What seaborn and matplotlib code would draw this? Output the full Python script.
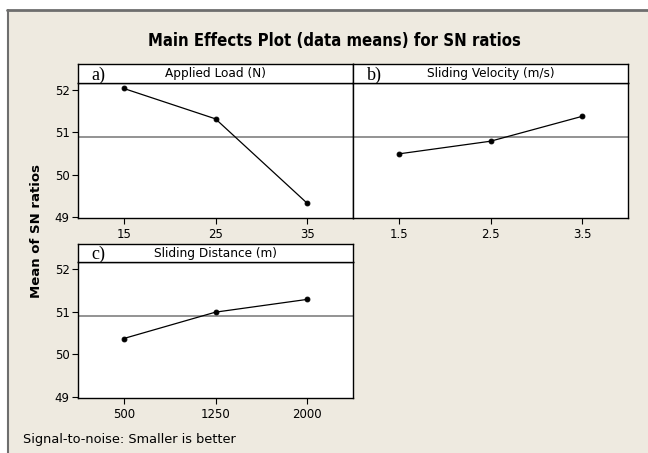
import matplotlib
matplotlib.use('Agg')
import matplotlib.pyplot as plt
import pandas as pd
import numpy as np
import seaborn as sns
from matplotlib.patches import Rectangle
from matplotlib.lines import Line2D

# Data
load_levels = ['15', '25', '35']
load_sn = [52.04, 51.32, 49.32]
velocity_levels = ['1.5', '2.5', '3.5']
velocity_sn = [50.49, 50.79, 51.38]
distance_levels = ['500', '1250', '2000']
distance_sn = [50.37, 50.99, 51.29]
grand_mean = 50.89
y_ticks = [49, 50, 51, 52]

panels = [
    ('a)', 'Applied Load (N)', load_levels, load_sn),
    ('b)', 'Sliding Velocity (m/s)', velocity_levels, velocity_sn),
    ('c)', 'Sliding Distance (m)', distance_levels, distance_sn),
]

sns.set_style('white')
plt.rcParams['font.family'] = ['DejaVu Sans']
plt.rcParams['text.color'] = 'black'
plt.rcParams['xtick.color'] = 'black'
plt.rcParams['ytick.color'] = 'black'
plt.rcParams['axes.labelcolor'] = 'black'

W, H = 648, 453
fig = plt.figure(figsize=(W / 100, H / 100), dpi=100)
fig.patch.set_facecolor('white')

def rect(x0, y0, x1, y1):
    # pixel box (top-left origin) -> figure fraction
    return [x0 / W, 1 - y1 / H, (x1 - x0) / W, (y1 - y0) / H]

# beige panel with dark border on top/left
bg = Rectangle((8 / W, 0), 1, 1 - 10 / H, transform=fig.transFigure,
               facecolor='#EEEAE0', edgecolor='none', zorder=-10)
fig.patches.append(bg)
fig.lines.append(Line2D([7 / W, 1], [1 - 10 / H, 1 - 10 / H], transform=fig.transFigure,
                        color='#6E6E6E', lw=2))
fig.lines.append(Line2D([7.5 / W, 7.5 / W], [0, 1 - 10 / H], transform=fig.transFigure,
                        color='#6E6E6E', lw=1.5))

# (left, strip top, plot top, right, plot bottom) in pixels
boxes = [
    (78, 64, 83, 353, 218),
    (353, 64, 83, 628, 218),
    (78, 244, 262, 353, 398),
]

for i, ((tag, name, levels, vals), (x0, s0, p0, x1, y1)) in enumerate(zip(panels, boxes)):
    ax = fig.add_axes(rect(x0, p0, x1, y1))
    ax.set_facecolor('white')
    df = pd.DataFrame({'level': levels, 'sn': vals})
    ax.axhline(grand_mean, color='#808080', lw=1.2, zorder=1)
    sns.pointplot(data=df, x='level', y='sn', order=levels, color='black',
                  errorbar=None, markers='o', markersize=3.5, linewidth=0.9, ax=ax)
    ax.set_xlim(-0.5, len(levels) - 0.5)
    ax.set_ylim(48.97, 52.17)
    ax.set_yticks(y_ticks)
    ax.set_xlabel('')
    ax.set_ylabel('')
    for sp in ax.spines.values():
        sp.set_color('black')
        sp.set_linewidth(1)
        sp.set_visible(True)
    ax.tick_params(axis='x', direction='out', length=4, width=0.8, color='black',
                   labelsize=8.5, pad=3, bottom=True)
    if i == 1:
        ax.tick_params(axis='y', left=False, labelleft=False)
    else:
        ax.tick_params(axis='y', direction='out', length=4, width=0.8, color='black',
                       labelsize=8.5, pad=2, left=True)

    # strip on top
    st = fig.add_axes(rect(x0, s0, x1, p0))
    st.set_facecolor('white')
    st.set_xticks([])
    st.set_yticks([])
    for sp in st.spines.values():
        sp.set_color('black')
        sp.set_linewidth(1)
        sp.set_visible(True)
    st.text(0.5, 0.5, name, ha='center', va='center', fontsize=8.7, transform=st.transAxes)
    st.text(0.05, 0.4, tag, ha='left', va='center', fontsize=13,
            family=['Liberation Serif', 'DejaVu Serif'], transform=st.transAxes)

fig.text(334 / W, 1 - 41 / H, 'Main Effects Plot (data means) for SN ratios',
         ha='center', va='center', fontsize=12, fontweight='bold',
         fontstretch='condensed', family=['DejaVu Sans'])
fig.text(37 / W, 1 - 231 / H, 'Mean of SN ratios', rotation=90, ha='center', va='center',
         fontsize=9.5, fontweight='bold')
fig.text(23 / W, 1 - 439 / H, 'Signal-to-noise: Smaller is better', ha='left', va='center',
         fontsize=9.3)

fig.savefig('out.png', dpi=100, facecolor=fig.get_facecolor())
